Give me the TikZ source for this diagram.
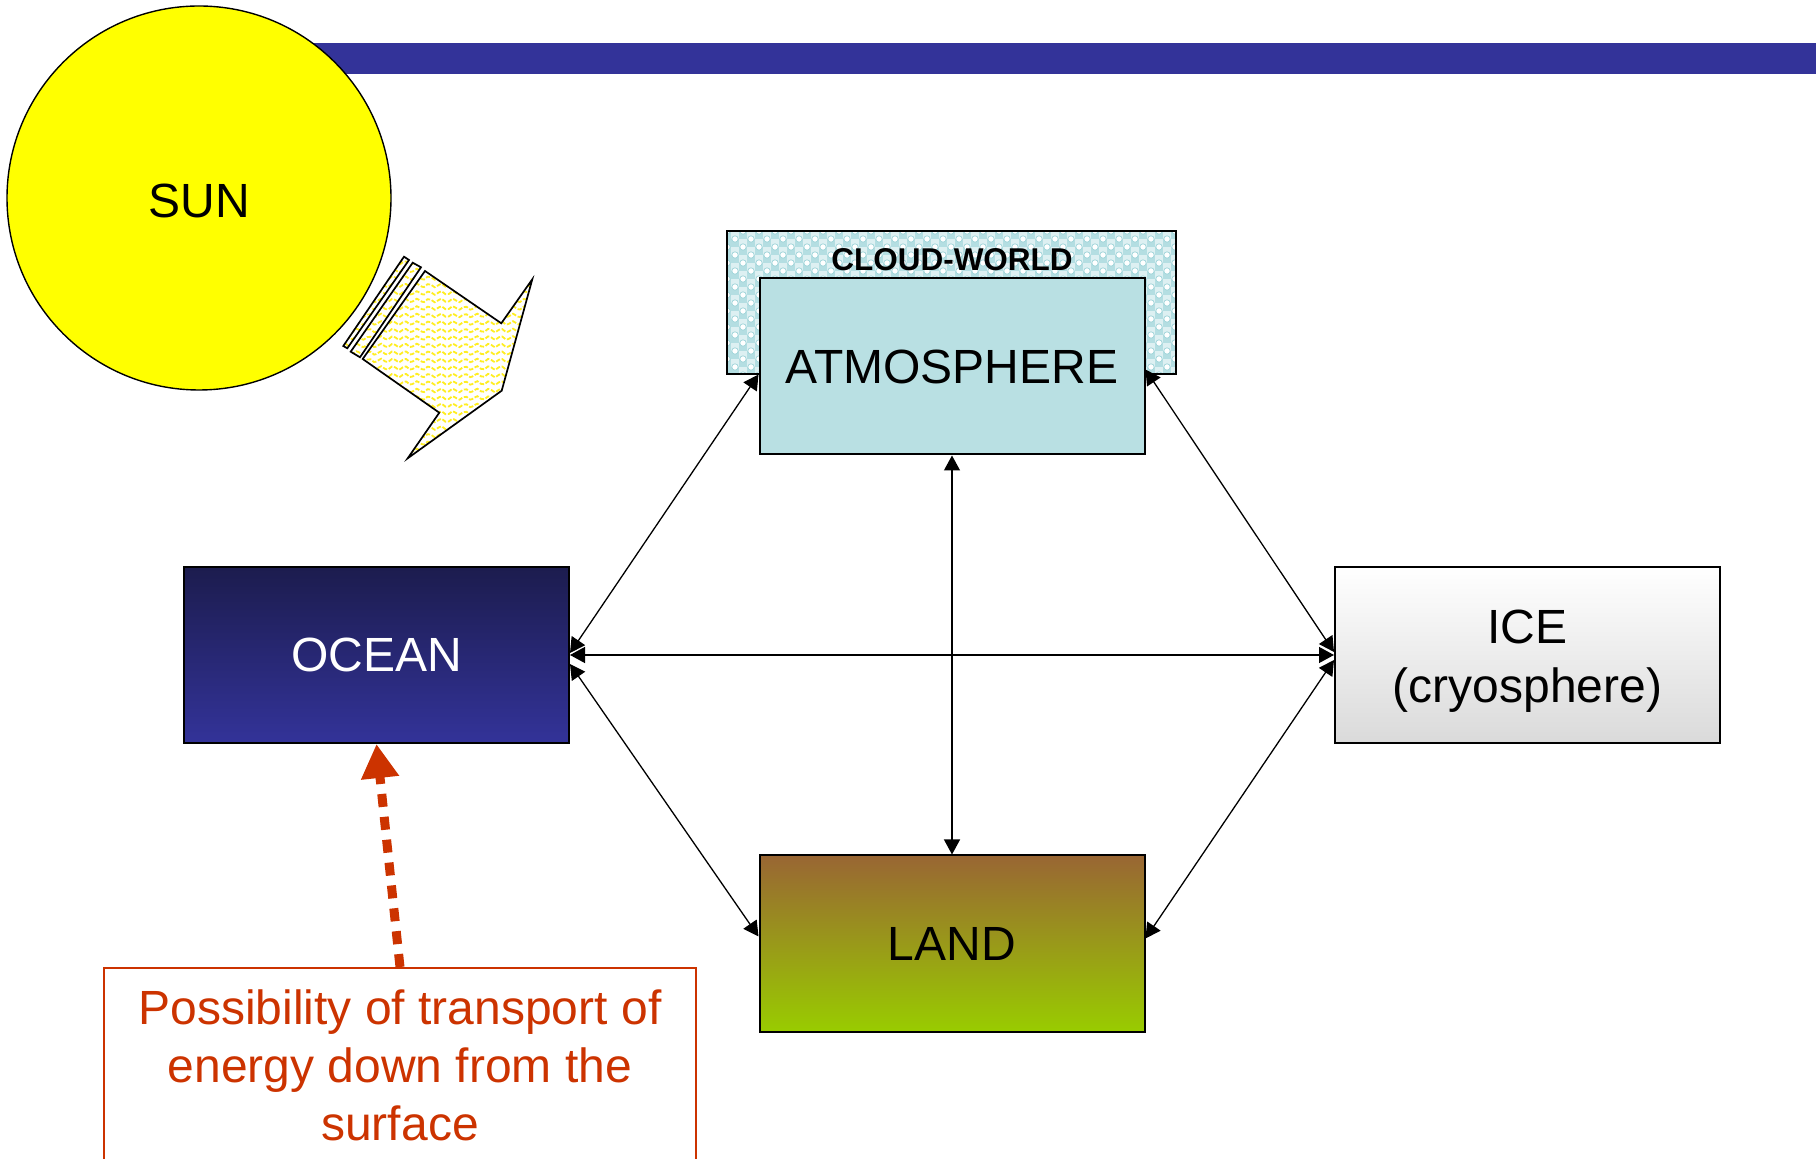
\documentclass[tikz,border=0pt]{standalone}
\usepackage{fontspec}
\setmainfont{Liberation Sans}
\usetikzlibrary{arrows.meta,calc}

\definecolor{barblue}{HTML}{333399}
\definecolor{sunyellow}{HTML}{FFFF00}
\definecolor{wavey}{HTML}{FFEE22}
\definecolor{atmfill}{HTML}{B9E0E3}
\definecolor{cloudbg}{HTML}{B4DEE2}
\definecolor{cloudring}{HTML}{9ED4D9}
\definecolor{oceantop}{HTML}{1C1C4E}
\definecolor{oceanbot}{HTML}{333399}
\definecolor{landtop}{HTML}{996633}
\definecolor{landbot}{HTML}{99CC00}
\definecolor{icebot}{HTML}{DADADA}
\definecolor{notered}{HTML}{CC3300}

\begin{document}
\begin{tikzpicture}[x=0.5pt,y=-0.5pt,
  bigtext/.style={font=\fontsize{24}{29.5}\selectfont},
  box/.style={draw=black,line width=1pt,inner sep=0pt,
              minimum width=192.5pt,minimum height=88pt,bigtext},
  link/.style={line width=0.65pt,
               {Triangle[length=7.5pt,width=8pt]}-{Triangle[length=7.5pt,width=8pt]}},
  flowhint/.style={draw=notered,line width=4.5pt,dash pattern=on 6.5pt off 5pt,
               -{Triangle[length=17pt,width=18pt]}},
]
\useasboundingbox (0,0) rectangle (1816,1159);
\clip (0,0) rectangle (1816,1159);

% title bar
\fill[barblue] (250,42.7) rectangle (1816,74.3);

% the sun
\node[circle,draw=black,line width=0.7pt,fill=sunyellow,inner sep=0pt,
      minimum size=192pt,bigtext] (sun) at (199,198) {};
\node[bigtext,inner sep=0pt] (suntext) at (199,200.5) {SUN};

% radiation arrow leaving the sun: wavy yellow fill
\begin{scope}
  \clip (404.0,256.7) -- (409.0,260.0) -- (347.3,348.3) -- (343.3,346.0) -- cycle
        (412.7,262.7) -- (421.0,267.3) -- (360.0,357.3) -- (350.7,351.7) -- cycle
        (425.0,271.0) -- (501.3,323.3) -- (532.3,279.3) -- (501.7,390.7)
          -- (407.7,458.3) -- (439.3,412.7) -- (362.7,359.0) -- cycle;
  \fill[white] (330,240) rectangle (550,470);
  \foreach \yy in {248,255.5,...,470}
    \draw[wavey,line width=0.9pt,dash pattern=on 2.2pt off 0.9pt]
      plot[domain=335:545,samples=60,smooth] (\x,{\yy+1.8*sin(30*\x)});
\end{scope}
\begin{scope}[draw=black,line width=0.85pt,line join=miter]
  \draw (404.0,256.7) -- (409.0,260.0) -- (347.3,348.3) -- (343.3,346.0) -- cycle;
  \draw (412.7,262.7) -- (421.0,267.3) -- (360.0,357.3) -- (350.7,351.7) -- cycle;
  \draw (425.0,271.0) -- (501.3,323.3) -- (532.3,279.3) -- (501.7,390.7)
          -- (407.7,458.3) -- (439.3,412.7) -- (362.7,359.0) -- cycle;
\end{scope}

% cloud world frame behind the atmosphere: cyan checks with pale rings
\node[fill=cloudbg,inner sep=0pt,minimum width=224.5pt,minimum height=71.5pt]
  (cloud) at (951.5,302.5) {};
\begin{scope}
  \clip (cloud.north west) rectangle (cloud.south east);
  \foreach \j in {0,...,18}{
    \pgfmathsetmacro{\yy}{231+8*\j}
    \pgfmathsetmacro{\xo}{727+mod(\j,2)*8}
    \foreach \i in {0,...,28}{
      \fill[white!55!cloudbg] (\xo+16*\i+4,\yy) rectangle ++(8,8);
      \filldraw[fill=white,draw=cloudring,line width=0.35pt]
        (\xo+16*\i,\yy) circle (3.2);
    }
  }
\end{scope}
\draw[line width=1pt] (cloud.north west) rectangle (cloud.south east);
\node[font=\fontsize{15.75}{18}\selectfont\bfseries] (cloudlabel) at (952,260) {CLOUD-WORLD};

% the four components
\node[box,fill=atmfill] (atm) at (952,366.5) {ATMOSPHERE};
\node[box,top color=oceantop,bottom color=oceanbot,text=white] (ocean) at (376.5,655) {OCEAN};
\node[box,top color=white,bottom color=icebot] (ice) at (1527.5,655) {};
\node[bigtext,align=center,inner sep=0pt] (icetext) at (1527.5,661) {ICE\\(cryosphere)};
\node[box,top color=landtop,bottom color=landbot] (land) at (952,943.5) {LAND};

% exchanges between components
\draw[link] ($(atm.west)+(0,8)$) -- ($(ocean.east)+(0,-2)$);
\draw[link] ($(ocean.east)+(0,9)$) -- ($(land.west)+(0,-7)$);
\draw[link] (ocean.east) -- (ice.west);
\draw[link] ($(atm.east)+(0,3)$) -- ($(ice.west)+(0,-3)$);
\draw[link] ($(ice.west)+(0,5)$) -- ($(land.east)+(0,-5)$);
\draw[link] (atm.south) -- (land.north);

% note on downward energy transport
\node[draw=notered,line width=1pt,inner sep=0pt,minimum width=296pt,
      minimum height=110pt,anchor=north] (note) at (400,967) {};
\node[bigtext,text=notered,align=center,inner sep=0pt,
      font=\fontsize{24}{29}\selectfont] (notetext) at (400,1065.5)
  {Possibility of transport of\\energy down from the\\surface};
\draw[flowhint] (note.north) -- (ocean.south);
\end{tikzpicture}
\end{document}
